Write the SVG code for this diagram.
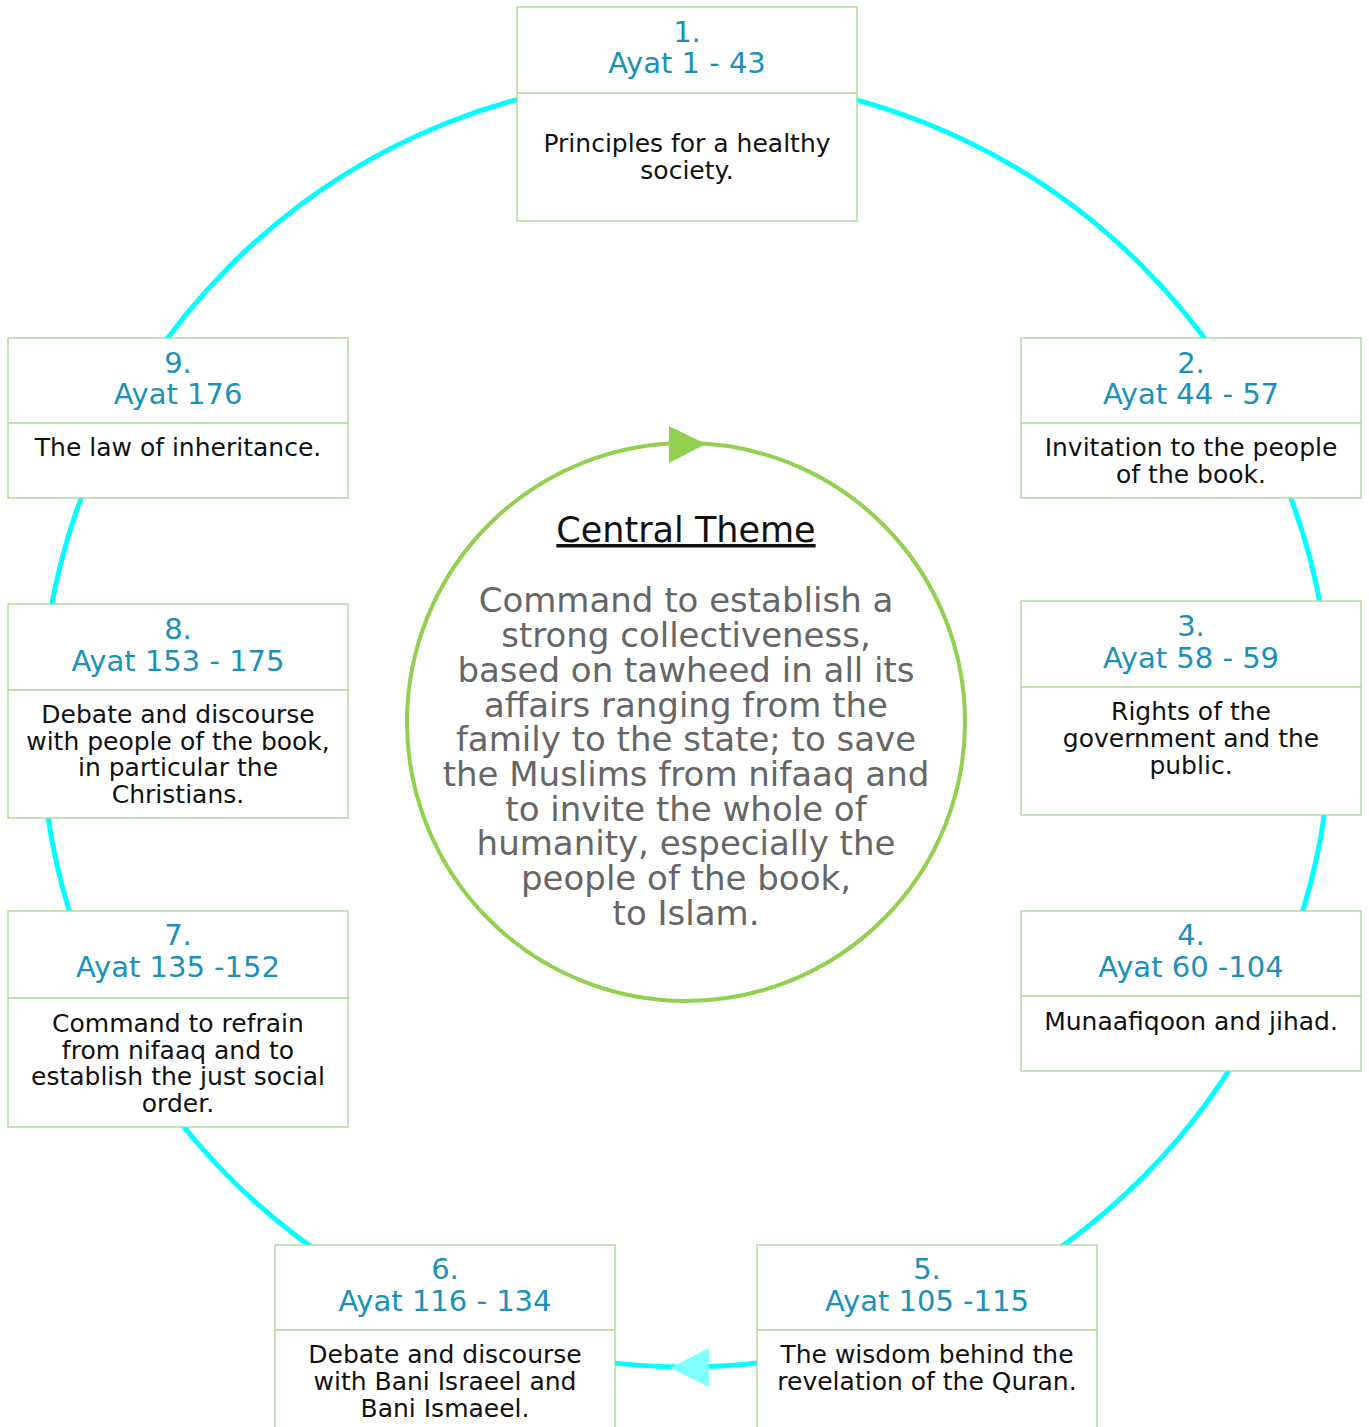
<svg xmlns="http://www.w3.org/2000/svg" width="1369" height="1427" viewBox="0 0 1369 1427">
<defs>
<style>
.box{fill:#ffffff;stroke:#a9d68f;stroke-width:1.3}
.div{stroke:#a9d68f;stroke-width:1.3}
.hd{font-family:"DejaVu Sans","Liberation Sans",sans-serif;font-size:29px;fill:#1a91b8;text-anchor:middle}
.bd{font-family:"DejaVu Sans","Liberation Sans",sans-serif;font-size:25px;fill:#111111;text-anchor:middle}
.ct{font-family:"DejaVu Sans","Liberation Sans",sans-serif;font-size:35px;fill:#111111;text-anchor:middle;text-decoration:underline}
.cb{font-family:"DejaVu Sans","Liberation Sans",sans-serif;font-size:34px;fill:#666666;text-anchor:middle}
</style>
</defs>
<rect width="1369" height="1427" fill="#ffffff"/>
<g id="connectors">
<circle cx="686" cy="722" r="645" fill="none" stroke="#00ffff" stroke-width="5"/>
<polygon points="670,1368 709,1348 709,1387" fill="#80ffff"/>
</g>
<g id="central">
<circle cx="686" cy="722" r="279" fill="none" stroke="#92d050" stroke-width="4"/>
<polygon points="706,444 669,426 669,463" fill="#92d050"/>
<text class="ct" x="686" y="542">Central Theme</text>
<text class="cb" x="686" y="612">Command to establish a</text>
<text class="cb" x="686" y="647">strong collectiveness,</text>
<text class="cb" x="686" y="682">based on tawheed in all its</text>
<text class="cb" x="686" y="717">affairs ranging from the</text>
<text class="cb" x="686" y="751">family to the state; to save</text>
<text class="cb" x="686" y="786">the Muslims from nifaaq and</text>
<text class="cb" x="686" y="821">to invite the whole of</text>
<text class="cb" x="686" y="855">humanity, especially the</text>
<text class="cb" x="686" y="890">people of the book,</text>
<text class="cb" x="686" y="925">to Islam.</text>
</g>
<g id="node1">
<rect class="box" x="517" y="7" width="340" height="214"/>
<line class="div" x1="517" y1="93" x2="857" y2="93"/>
<text class="hd" x="687" y="42">1.</text>
<text class="hd" x="687" y="73">Ayat 1 - 43</text>
<text class="bd" x="687" y="152">Principles for a healthy</text>
<text class="bd" x="687" y="179">society.</text>
</g>
<g id="node2">
<rect class="box" x="1021" y="338" width="340" height="160"/>
<line class="div" x1="1021" y1="423" x2="1361" y2="423"/>
<text class="hd" x="1191" y="373">2.</text>
<text class="hd" x="1191" y="404">Ayat 44 - 57</text>
<text class="bd" x="1191" y="456">Invitation to the people</text>
<text class="bd" x="1191" y="483">of the book.</text>
</g>
<g id="node3">
<rect class="box" x="1021" y="601" width="340" height="214"/>
<line class="div" x1="1021" y1="687" x2="1361" y2="687"/>
<text class="hd" x="1191" y="636">3.</text>
<text class="hd" x="1191" y="668">Ayat 58 - 59</text>
<text class="bd" x="1191" y="720">Rights of the</text>
<text class="bd" x="1191" y="747">government and the</text>
<text class="bd" x="1191" y="774">public.</text>
</g>
<g id="node4">
<rect class="box" x="1021" y="911" width="340" height="160"/>
<line class="div" x1="1021" y1="996" x2="1361" y2="996"/>
<text class="hd" x="1191" y="945">4.</text>
<text class="hd" x="1191" y="977">Ayat 60 -104</text>
<text class="bd" x="1191" y="1030">Munaafiqoon and jihad.</text>
</g>
<g id="node5">
<rect class="box" x="757" y="1245" width="340" height="200"/>
<line class="div" x1="757" y1="1330" x2="1097" y2="1330"/>
<text class="hd" x="927" y="1279">5.</text>
<text class="hd" x="927" y="1311">Ayat 105 -115</text>
<text class="bd" x="927" y="1363">The wisdom behind the</text>
<text class="bd" x="927" y="1390">revelation of the Quran.</text>
</g>
<g id="node6">
<rect class="box" x="275" y="1245" width="340" height="200"/>
<line class="div" x1="275" y1="1330" x2="615" y2="1330"/>
<text class="hd" x="445" y="1279">6.</text>
<text class="hd" x="445" y="1311">Ayat 116 - 134</text>
<text class="bd" x="445" y="1363">Debate and discourse</text>
<text class="bd" x="445" y="1390">with Bani Israeel and</text>
<text class="bd" x="445" y="1417">Bani Ismaeel.</text>
</g>
<g id="node7">
<rect class="box" x="8" y="911" width="340" height="216"/>
<line class="div" x1="8" y1="998" x2="348" y2="998"/>
<text class="hd" x="178" y="945">7.</text>
<text class="hd" x="178" y="977">Ayat 135 -152</text>
<text class="bd" x="178" y="1032">Command to refrain</text>
<text class="bd" x="178" y="1059">from nifaaq and to</text>
<text class="bd" x="178" y="1085">establish the just social</text>
<text class="bd" x="178" y="1112">order.</text>
</g>
<g id="node8">
<rect class="box" x="8" y="604" width="340" height="214"/>
<line class="div" x1="8" y1="690" x2="348" y2="690"/>
<text class="hd" x="178" y="639">8.</text>
<text class="hd" x="178" y="671">Ayat 153 - 175</text>
<text class="bd" x="178" y="723">Debate and discourse</text>
<text class="bd" x="178" y="750">with people of the book,</text>
<text class="bd" x="178" y="776">in particular the</text>
<text class="bd" x="178" y="803">Christians.</text>
</g>
<g id="node9">
<rect class="box" x="8" y="338" width="340" height="160"/>
<line class="div" x1="8" y1="423" x2="348" y2="423"/>
<text class="hd" x="178" y="373">9.</text>
<text class="hd" x="178" y="404">Ayat 176</text>
<text class="bd" x="178" y="456">The law of inheritance.</text>
</g>
</svg>
